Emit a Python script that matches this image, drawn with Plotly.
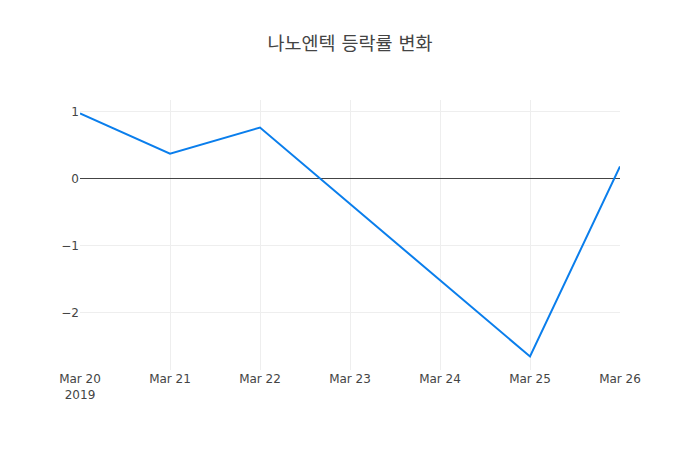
import plotly.graph_objects as go

dates = ["2019-03-20", "2019-03-21", "2019-03-22", "2019-03-25", "2019-03-26"]
rates = [0.97, 0.37, 0.76, -2.66, 0.18]

fig = go.Figure()
fig.add_trace(go.Scatter(x=dates, y=rates, mode="lines",
                         line=dict(color="rgb(10,126,236)", width=2)))
fig.update_layout(
    width=700, height=450,
    title=dict(text="나노엔텍 등락률 변화", x=0.5, xanchor="center",
               font=dict(size=18.5)),
    plot_bgcolor="white", paper_bgcolor="white",
    font=dict(color="#444", family="DejaVu Sans, Noto Sans CJK KR, sans-serif"),
    xaxis=dict(showgrid=True, gridcolor="#eee", zeroline=False),
    yaxis=dict(showgrid=True, gridcolor="#eee", zeroline=True,
               zerolinecolor="#444", zerolinewidth=1),
)
fig.write_html("out.html")
